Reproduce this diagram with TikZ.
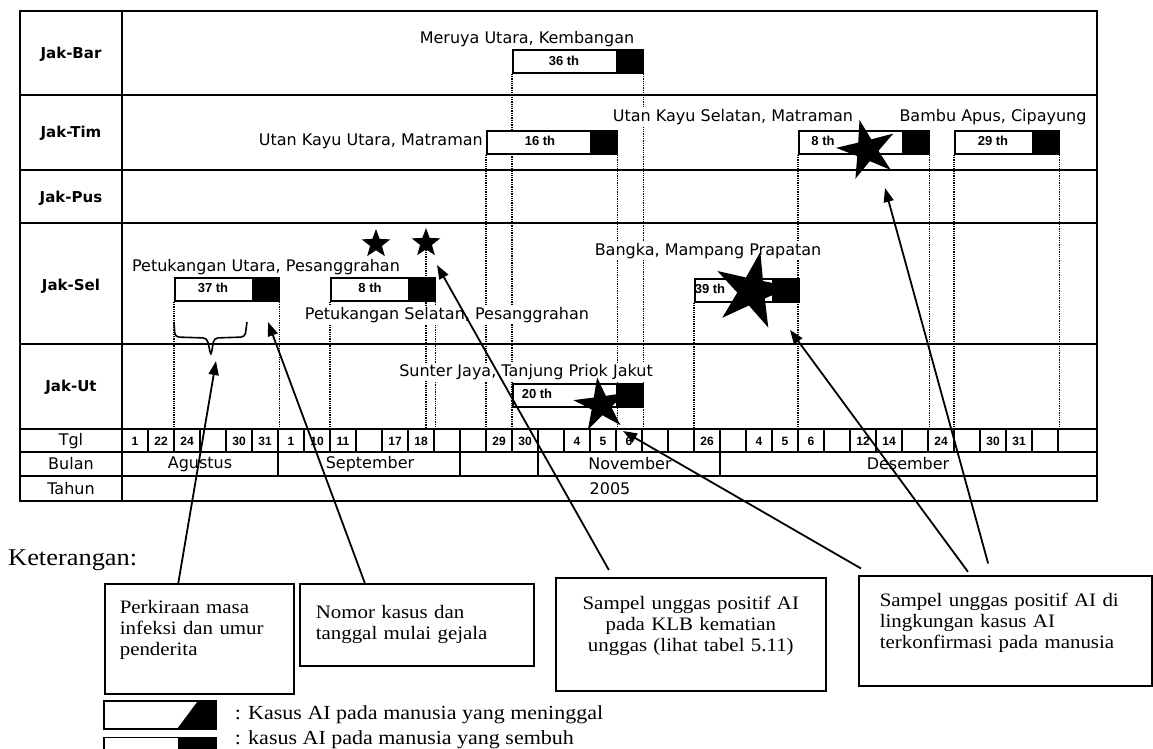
\documentclass[tikz,border=0pt]{standalone}
\usepackage{fontspec}
\setmainfont{Liberation Serif}[FakeStretch=1.1]
\newfontfamily\tabfont{DejaVu Sans}
\newfontfamily\numfont{Liberation Sans}
\usepackage{tikz}
\usetikzlibrary{shapes.geometric, arrows.meta, positioning, calc, backgrounds}

\tikzstyle{frame} = [line width=2.4pt]
\tikzstyle{grid} = [line width=1.5pt]
\tikzstyle{cellline} = [line width=1.1pt]
\tikzstyle{rowlabel} = [font=\tabfont\bfseries\fontsize{15}{17}\selectfont, inner sep=1pt]
\tikzstyle{monthlabel} = [font=\tabfont\fontsize{16}{18}\selectfont, inner sep=1pt]
\tikzstyle{daynum} = [font=\numfont\bfseries\fontsize{12}{14}\selectfont, inner sep=0pt]
\tikzstyle{place} = [font=\tabfont\fontsize{16}{18}\selectfont, fill=white, inner sep=1pt]
\tikzstyle{barwhite} = [rectangle, draw=black, line width=1.6pt, fill=white, minimum height=23pt, inner sep=0pt, anchor=north west]
\tikzstyle{barblack} = [rectangle, draw=black, line width=1.6pt, fill=black, minimum height=23pt, minimum width=26pt, inner sep=0pt, anchor=north west]
\tikzstyle{barlabel} = [font=\numfont\bfseries\fontsize{13}{15}\selectfont, inner sep=0pt]
\tikzstyle{guide} = [densely dotted, line width=1.3pt]
\tikzstyle{smallstar} = [star, star points=5, star point ratio=2.4, fill=black, minimum size=30pt, inner sep=0pt]
\tikzstyle{bigstar} = [star, star points=5, star point ratio=2.7, fill=black, inner sep=0pt]
\tikzstyle{note} = [rectangle, draw=black, line width=1.6pt, fill=white, font=\fontsize{19}{21}\selectfont, inner ysep=0pt]
\tikzstyle{legbar} = [rectangle, draw=black, line width=1.6pt, fill=white, minimum width=112pt, minimum height=28pt, inner sep=0pt]
\tikzstyle{legtext} = [font=\fontsize{20}{22}\selectfont, inner sep=0pt]
\tikzstyle{arrow} = [line width=1.8pt, -{Triangle[length=14pt,width=10pt]}]

\begin{document}
\begin{tikzpicture}[x=1pt, y=-1pt]
    \useasboundingbox (0,0) rectangle (1153,748);

    % --- Tabel ---
    \draw[frame] (20,11) rectangle (1097,501);
    \draw[frame] (122,11) -- (122,501);
    \foreach \y in {95,170,223,344,429,452,476}
        \draw[grid] (20,\y) -- (1097,\y);
    \foreach \k in {1,...,36}
        \draw[cellline] ({122+26*\k},429) -- ({122+26*\k},452);
    \foreach \k in {6,13,16,23}
        \draw[grid] ({122+26*\k},429) -- ({122+26*\k},476);
    \coordinate (tgltop) at (122,429);

    % Kolom wilayah
    \node (jakbar) [rowlabel] at (71,54) {Jak-Bar};
    \node (jaktim) [rowlabel] at (71,133) {Jak-Tim};
    \node (jakpus) [rowlabel] at (71,198) {Jak-Pus};
    \node (jaksel) [rowlabel] at (71,286) {Jak-Sel};
    \node (jakut) [rowlabel] at (71,387) {Jak-Ut};
    \node (tgl) [monthlabel] at (71,441) {Tgl};
    \node (bulan) [monthlabel] at (71,464) {Bulan};
    \node (tahun) [monthlabel] at (71,489) {Tahun};

    % Tanggal, bulan, tahun
    \foreach \d [count=\k from 0] in {1,22,24,,30,31,1,10,11,,17,18,,,29,30,,4,5,6,,,26,,4,5,6,,12,14,,24,,30,31,}
        \node (tgl\k) [daynum] at ({135+26*\k},441) {\d};
    \node (agustus) [monthlabel] at (200,464) {Agustus};
    \node (september) [monthlabel] at (370,464) {September};
    \node (november) [monthlabel] at (630,464) {November};
    \node (desember) [monthlabel] at (908,464) {Desember};
    \node (th2005) [monthlabel] at (610,489) {2005};

    % --- Kasus ---
    % Jak-Bar
    \node (meruya) [place] at (527,39) {Meruya Utara, Kembangan};
    \node (w36) [barwhite, minimum width=104pt] at (512,49) {};
    \node (b36) [barblack] at (616,49) {};
    \node (l36) [barlabel] at (564,61) {36 th};

    % Jak-Tim
    \node (utanutara) [place, anchor=east] at (484,141) {Utan Kayu Utara, Matraman};
    \node (w16) [barwhite, minimum width=104pt] at (486,130) {};
    \node (b16) [barblack] at (590,130) {};
    \node (l16) [barlabel] at (540,141) {16 th};

    \node (utanselatan) [place] at (733,117) {Utan Kayu Selatan, Matraman};
    \node (w8t) [barwhite, minimum width=104pt] at (798,130) {};
    \node (b8t) [barblack] at (902,130) {};
    \node (l8t) [barlabel] at (823,141) {8 th};

    \node (bambu) [place] at (993,117) {Bambu Apus, Cipayung};
    \node (w29) [barwhite, minimum width=78pt] at (954,130) {};
    \node (b29) [barblack] at (1032,130) {};
    \node (l29) [barlabel] at (993,141) {29 th};

    % Jak-Sel
    \node (petutara) [place] at (266,267) {Petukangan Utara, Pesanggrahan};
    \node (w37) [barwhite, minimum width=78pt] at (174,277) {};
    \node (b37) [barblack] at (252,277) {};
    \node (l37) [barlabel] at (213,288) {37 th};

    \node (petselatan) [place] at (447,315) {Petukangan Selatan, Pesanggrahan};
    \node (w8s) [barwhite, minimum width=78pt] at (330,277) {};
    \node (b8s) [barblack] at (408,277) {};
    \node (l8s) [barlabel] at (370,288) {8 th};

    \node (bangka) [place] at (708,251) {Bangka, Mampang Prapatan};
    \node (w39) [barwhite, minimum width=78pt] at (694,278) {};
    \node (b39) [barblack] at (772,278) {};
    \node (l39) [barlabel] at (710,289) {39 th};

    % Jak-Ut
    \node (sunter) [place] at (526,372) {Sunter Jaya, Tanjung Priok Jakut};
    \node (w20) [barwhite, minimum width=104pt] at (512,383) {};
    \node (b20) [barblack] at (616,383) {};
    \node (l20) [barlabel] at (537,394) {20 th};

    % Bintang
    \node (s1) [smallstar] at (376,244) {};
    \node (s2) [smallstar] at (426,243) {};
    \node (sttim) [bigstar, minimum size=62pt, rotate=14] at (867,150) {};
    \node (stbangka) [bigstar, minimum size=80pt, rotate=-12] at (752,291) {};
    \node (stut) [bigstar, minimum size=56pt, rotate=8] at (601,405) {};

    % Kurung masa infeksi
    \draw[line width=1.6pt, rounded corners=4pt] (174,322) -- (175,337) -- (207,338)
        -- (211,356) -- (214,338) -- (245,337) -- (247,322);

    % Garis bantu
    \begin{scope}[on background layer]
        \draw[guide] (w36.south west) -- (w36.south west |- tgltop);
        \draw[guide] (b36.south east) -- (b36.south east |- tgltop);
        \draw[guide] (w16.south west) -- (w16.south west |- tgltop);
        \draw[guide] (b16.south east) -- (b16.south east |- tgltop);
        \draw[guide] (w8t.south west) -- (w8t.south west |- tgltop);
        \draw[guide] (b8t.south east) -- (b8t.south east |- tgltop);
        \draw[guide] (w29.south west) -- (w29.south west |- tgltop);
        \draw[guide] (b29.south east) -- (b29.south east |- tgltop);
        \draw[guide] (w37.south west) -- (w37.south west |- tgltop);
        \draw[guide] (b37.south east) -- (b37.south east |- tgltop);
        \draw[guide] (w8s.south west) -- (w8s.south west |- tgltop);
        \draw[guide] (b8s.south east) -- (b8s.south east |- tgltop);
        \draw[guide] (s2) -- (s2 |- tgltop);
        \draw[guide] (w39.south west) -- (w39.south west |- tgltop);
    \end{scope}

    % --- Keterangan ---
    \node (ket) [anchor=west, font=\fontsize{24}{26}\selectfont, inner sep=0pt] at (8,560) {Keterangan:};
    \node (perkiraan) [note, anchor=north west, minimum width=189pt, minimum height=110pt,
        inner xsep=15pt, text width=159pt, align=left] at (104,583)
        {Perkiraan masa\\infeksi dan umur\\penderita\\\mbox{}};
    \node (nomor) [note, anchor=north west, minimum width=234pt, minimum height=82pt,
        inner xsep=16pt, text width=202pt, align=left] at (299,583)
        {Nomor kasus dan\\tanggal mulai gejala};
    \node (klb) [note, anchor=north west, minimum width=270pt, minimum height=113pt,
        inner xsep=15pt, text width=240pt, align=center] at (555,577)
        {Sampel unggas positif AI\\pada KLB kematian\\unggas (lihat tabel 5.11)\\\mbox{}};
    \node (lingkungan) [note, anchor=north west, minimum width=293pt, minimum height=110pt,
        inner xsep=21pt, text width=251pt, align=left] at (858,575)
        {Sampel unggas positif AI di\\lingkungan kasus AI\\terkonfirmasi pada manusia\\\mbox{}};

    \node (legdead) [legbar, anchor=north west] at (103,700) {};
    \fill ($(legdead.north east)+(-18pt,0)$) -- (legdead.north east) -- (legdead.south east)
        -- ($(legdead.south east)+(-40pt,0)$) -- cycle;
    \node (legdeadtxt) [legtext, anchor=west, right=18pt of legdead] {: Kasus AI pada manusia yang meninggal};
    \node (legcured) [legbar, below=7pt of legdead] {};
    \fill ($(legcured.north east)+(-39pt,0)$) rectangle (legcured.south east);
    \node (legcuredtxt) [legtext, anchor=west, right=18pt of legcured, yshift=12pt] {: kasus AI pada manusia yang sembuh};

    % --- Panah ---
    \coordinate (tipbrace) at (216,361);
    \coordinate (tipnomor) at (268,322);
    \coordinate (tipklb) at (437,265);
    \coordinate (tipjakut) at (623,431);
    \coordinate (tipbangka) at (790,330);
    \coordinate (tiptim) at (885,188);

    \draw [arrow] ([xshift=-21pt]perkiraan.north) -- (tipbrace);
    \draw [arrow] ([xshift=-52pt]nomor.north) -- (tipnomor);
    \draw [arrow, shorten <=8pt] ([xshift=-78pt]klb.north) -- (tipklb);
    \draw [arrow, shorten <=13pt] ([xshift=-133pt]lingkungan.north) -- (tipjakut);
    \draw [arrow, shorten <=4pt] ([xshift=-35pt]lingkungan.north) -- (tipbangka);
    \draw [arrow, shorten <=12pt] ([xshift=-14pt]lingkungan.north) -- (tiptim);

\end{tikzpicture}
\end{document}
